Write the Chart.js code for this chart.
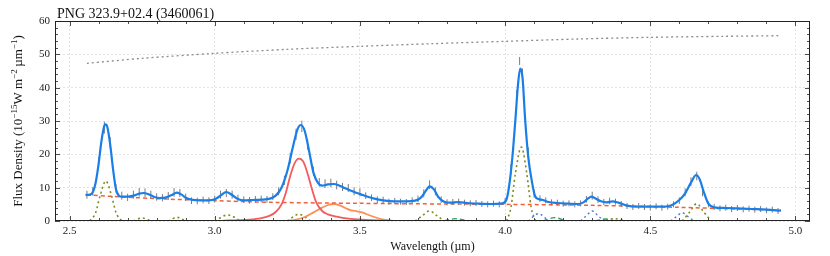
<!DOCTYPE html>
<html>
<head>
<meta charset="utf-8">
<script src="https://cdn.jsdelivr.net/npm/chart.js@4.4.1/dist/chart.umd.min.js"></script>
<style>
  body { margin: 0; background: #fff; }
  canvas { display: block; }
</style>
</head>
<body>
<canvas id="chart" width="830" height="256"></canvas>
<script>
// axis ticks
const xTicks = [2.5, 3.0, 3.5, 4.0, 4.5, 5.0];
const yTicks = [0, 10, 20, 30, 40, 50, 60];

// fitted model (blue)
const fitWave = [2.555, 2.57, 2.58, 2.59, 2.60, 2.61, 2.62, 2.625, 2.63, 2.64, 2.65, 2.66, 2.67, 2.68, 2.70, 2.72, 2.74, 2.755, 2.77, 2.79,
  2.81, 2.83, 2.85, 2.87, 2.885, 2.90, 2.92, 2.95, 2.98, 3.00, 3.02, 3.04, 3.06, 3.08, 3.10, 3.13, 3.16, 3.19, 3.21, 3.23,
  3.25, 3.27, 3.285, 3.297, 3.31, 3.325, 3.34, 3.355, 3.37, 3.39, 3.41, 3.43, 3.45, 3.47, 3.49, 3.51, 3.53, 3.55, 3.58, 3.62,
  3.66, 3.69, 3.71, 3.725, 3.74, 3.755, 3.77, 3.79, 3.81, 3.84, 3.87, 3.91, 3.95, 3.99, 4.005, 4.017, 4.027, 4.036, 4.044, 4.052,
  4.06, 4.069, 4.08, 4.092, 4.103, 4.115, 4.13, 4.15, 4.18, 4.22, 4.25, 4.27, 4.285, 4.298, 4.31, 4.33, 4.35, 4.37, 4.39, 4.42,
  4.45, 4.50, 4.55, 4.575, 4.60, 4.62, 4.64, 4.658, 4.67, 4.685, 4.70, 4.72, 4.76, 4.80, 4.85, 4.90, 4.95];
const fitFlux = [7.8, 7.9, 8.6, 11.5, 17, 24, 28.6, 29.0, 28.3, 23, 15.5, 9.5, 7.6, 7.3, 7.3, 7.6, 8.2, 8.4, 8.1, 7.3,
  6.9, 7.0, 7.7, 8.5, 8.0, 7.0, 6.4, 6.2, 6.2, 6.5, 7.6, 8.7, 7.8, 6.6, 6.2, 6.3, 6.4, 6.7, 7.6, 10,
  15, 22.5, 27.5, 28.8, 27, 21, 14.5, 11.5, 10.6, 11.0, 11.1, 10.6, 9.8, 9.1, 8.4, 7.8, 7.2, 6.7, 6.2, 5.9,
  5.9, 6.1, 7.0, 8.8, 10.4, 9.5, 7.2, 5.8, 5.5, 5.7, 5.4, 5.2, 5.1, 5.3, 6.5, 12.5, 21, 31, 40.5, 45.7,
  43, 30.5, 19, 12, 7.5, 6.6, 6.3, 5.7, 5.4, 5.2, 5.1, 5.6, 6.7, 7.3, 6.8, 5.9, 5.6, 5.9, 5.5, 4.6,
  4.3, 4.3, 4.3, 4.8, 6.3, 8.3, 11.5, 13.8, 12.5, 8.5, 5.2, 4.1, 3.9, 3.8, 3.6, 3.4, 3.1];

// observed spectrum with errors (grey)
const obsWave = [2.56, 2.58, 2.60, 2.62, 2.64, 2.66, 2.68, 2.70, 2.72, 2.74, 2.76, 2.78, 2.80, 2.82, 2.84, 2.86, 2.88, 2.90, 2.92, 2.94,
  2.96, 2.98, 3.00, 3.02, 3.04, 3.06, 3.08, 3.10, 3.12, 3.14, 3.16, 3.18, 3.20, 3.22, 3.24, 3.26, 3.28, 3.30, 3.32, 3.34,
  3.36, 3.38, 3.40, 3.42, 3.44, 3.46, 3.48, 3.50, 3.52, 3.54, 3.56, 3.58, 3.60, 3.62, 3.64, 3.66, 3.68, 3.70, 3.72, 3.74,
  3.76, 3.78, 3.80, 3.82, 3.84, 3.86, 3.88, 3.90, 3.92, 3.94, 3.96, 3.98, 4.00, 4.02, 4.04, 4.05, 4.06, 4.08, 4.10, 4.12,
  4.14, 4.16, 4.18, 4.20, 4.22, 4.24, 4.26, 4.28, 4.30, 4.32, 4.34, 4.36, 4.38, 4.40, 4.42, 4.44, 4.46, 4.48, 4.50, 4.52,
  4.54, 4.56, 4.58, 4.60, 4.62, 4.64, 4.66, 4.68, 4.70, 4.72, 4.74, 4.76, 4.78, 4.80, 4.82, 4.84, 4.86, 4.88, 4.90, 4.92, 4.94];
const obsFlux = [7.9, 8.9, 17.5, 28.0, 23.5, 9.8, 7.6, 7.1, 7.9, 8.6, 8.5, 7.9, 7.2, 7.0, 7.5, 8.6, 8.4, 7.1, 6.1, 6.0,
  6.3, 6.1, 6.6, 7.9, 8.4, 7.9, 6.9, 6.4, 6.2, 6.5, 6.6, 6.5, 7.3, 8.9, 12.2, 18.8, 26.0, 28.4, 23.0, 14.9,
  11.6, 11.2, 11.4, 10.8, 10.2, 9.9, 8.9, 8.6, 7.6, 7.0, 6.4, 6.3, 5.8, 6.0, 5.8, 5.7, 6.2, 6.6, 8.3, 10.9,
  8.9, 6.4, 5.6, 5.7, 5.8, 5.5, 5.3, 5.4, 5.1, 5.0, 5.2, 5.0, 5.9, 15.5, 37.5, 48.0, 44.0, 20.5, 8.2, 6.7,
  6.2, 5.6, 5.5, 5.2, 5.3, 5.0, 5.3, 6.5, 7.6, 6.4, 5.7, 6.0, 5.8, 5.1, 4.5, 4.2, 4.5, 4.2, 4.1, 4.4,
  4.0, 4.3, 5.0, 6.1, 8.6, 11.8, 13.5, 8.6, 5.0, 4.2, 3.8, 4.0, 3.6, 3.9, 3.5, 3.7, 3.4, 3.6, 3.2, 3.4, 3.0];
const obsErr = [1.2, 1.3, 1.6, 1.8, 1.7, 1.3, 1.2, 1.1, 1.2, 1.3, 1.3, 1.2, 1.1, 1.1, 1.2, 1.3, 1.2, 1.1, 1.0, 1.0,
  1.0, 1.0, 1.0, 1.2, 1.2, 1.2, 1.0, 1.0, 1.0, 1.0, 1.0, 1.0, 1.0, 1.2, 1.4, 1.6, 1.7, 1.7, 1.6, 1.4,
  1.3, 1.3, 1.3, 1.3, 1.2, 1.2, 1.2, 1.2, 1.0, 1.0, 1.0, 1.0, 0.9, 0.9, 0.9, 0.9, 0.9, 1.0, 1.2, 1.3,
  1.2, 1.0, 0.9, 0.9, 0.9, 0.9, 0.9, 0.9, 0.9, 0.9, 0.9, 0.9, 1.0, 1.6, 1.8, 1.2, 1.8, 1.6, 1.2, 1.0,
  0.9, 0.9, 0.9, 0.9, 0.9, 0.9, 0.9, 1.0, 1.2, 1.0, 0.9, 1.0, 0.9, 0.9, 0.9, 0.9, 0.9, 0.9, 0.9, 0.9,
  0.9, 0.9, 0.9, 1.0, 1.2, 1.3, 1.3, 1.2, 0.9, 0.9, 0.9, 0.9, 0.9, 0.9, 0.9, 0.9, 0.9, 0.9, 0.9, 0.9, 0.9];

// grey dotted curve along the top
const topWave = [2.56, 2.75, 3.0, 3.25, 3.5, 3.75, 4.0, 4.25, 4.5, 4.75, 4.95];
const topFlux = [47.3, 48.8, 50.3, 51.5, 52.4, 53.2, 53.9, 54.6, 55.1, 55.4, 55.6];

// continuum (red dashed)
const contWave = [2.56, 2.8, 3.0, 3.2, 3.5, 3.8, 4.0, 4.3, 4.6, 4.8, 4.95];
const contFlux = [7.8, 6.7, 6.1, 5.6, 5.3, 5.1, 5.0, 4.7, 4.1, 3.6, 3.2];

// gas lines (olive dotted), null separates the lines
const lineWave = [2.57, 2.59, 2.605, 2.625, 2.645, 2.66, 2.68, null, 2.72, 2.75, 2.78, null, 2.84, 2.87, 2.90, null,
  3.00, 3.045, 3.09, null, 3.25, 3.29, 3.33, null, 3.69, 3.715, 3.74, 3.765, 3.79, null,
  4.005, 4.02, 4.035, 4.056, 4.075, 4.09, 4.105, null, 4.33, 4.375, 4.42, null, 4.61, 4.635, 4.66, 4.685, 4.71];
const lineFlux = [0, 2.5, 7.5, 12, 7.5, 2.5, 0, null, 0, 0.9, 0, null, 0, 1.1, 0, null,
  0, 1.8, 0, null, 0, 2.0, 0, null, 0, 1.6, 3.0, 1.6, 0, null,
  0, 4, 14, 22.2, 14, 4, 0, null, 0, 0.7, 0, null, 0, 2.6, 5.2, 2.6, 0];

// 3.3 um feature (red)
const pahWave = [3.03, 3.10, 3.15, 3.19, 3.21, 3.23, 3.245, 3.26, 3.275, 3.29, 3.305, 3.32, 3.335, 3.35, 3.37, 3.39, 3.42, 3.46, 3.52, 3.58];
const pahFlux = [0.1, 0.3, 0.7, 1.6, 2.7, 5.0, 8.5, 13.5, 17.3, 18.7, 17.8, 14.2, 9.5, 5.5, 3.0, 2.0, 1.3, 0.7, 0.35, 0.15];

// 3.4 um plateau (orange)
const platWave = [3.25, 3.28, 3.31, 3.34, 3.37, 3.39, 3.41, 3.43, 3.45, 3.47, 3.49, 3.51, 3.53, 3.56, 3.59, 3.62];
const platFlux = [0.1, 0.4, 1.2, 2.6, 4.0, 4.8, 5.1, 4.7, 3.9, 3.2, 2.9, 2.5, 1.8, 0.9, 0.3, 0.05];

// green dashed
const greenWave = [3.79, 3.83, 3.87, null, 4.13, 4.17, 4.21, null, 4.31, 4.345, 4.38];
const greenFlux = [0, 0.7, 0, null, 0, 1.0, 0, null, 0, 0.6, 0];

// blue dotted
const bdotWave = [4.08, 4.115, 4.15, null, 4.26, 4.28, 4.30, 4.32, 4.34, null, 4.57, 4.59, 4.61, 4.63, 4.65];
const bdotFlux = [0, 2.2, 0, null, 0, 1.6, 3.0, 1.6, 0, null, 0, 1.3, 2.5, 1.3, 0];

const pts = (xs, ys) => xs.map((x, i) => ({ x: x, y: ys[i] }));

// error bars as short vertical segments split by gaps
const errData = [];
obsWave.forEach((w, i) => {
  errData.push({ x: w, y: obsFlux[i] - obsErr[i] });
  errData.push({ x: w, y: obsFlux[i] + obsErr[i] });
  errData.push({ x: w, y: null });
});

const serif = '"Liberation Serif", "Times New Roman", serif';
Chart.defaults.font.family = serif;
Chart.defaults.color = '#222';

// frame, inward ticks, title and y label
const framePlugin = {
  id: 'frame',
  afterDraw(chart) {
    const ctx = chart.ctx;
    const a = chart.chartArea;
    const xs = chart.scales.x, ys = chart.scales.y;
    ctx.save();
    ctx.strokeStyle = '#222';
    ctx.lineWidth = 1;
    ctx.strokeRect(a.left + 0.5, a.top + 0.5, a.right - a.left - 1, a.bottom - a.top - 1);
    ctx.lineWidth = 0.8;
    ctx.beginPath();
    for (let v = 25; v <= 50; v++) {
      const px = Math.round(xs.getPixelForValue(v / 10)) + 0.5;
      const len = v % 5 === 0 ? 5 : 3;
      ctx.moveTo(px, a.bottom); ctx.lineTo(px, a.bottom - len);
      ctx.moveTo(px, a.top); ctx.lineTo(px, a.top + len);
    }
    for (let v = 0; v <= 60; v += 2) {
      const py = Math.round(ys.getPixelForValue(v)) + 0.5;
      const len = v % 10 === 0 ? 5 : 3;
      ctx.moveTo(a.left, py); ctx.lineTo(a.left + len, py);
      ctx.moveTo(a.right, py); ctx.lineTo(a.right - len, py);
    }
    ctx.stroke();

    ctx.fillStyle = '#111';
    ctx.font = '14px ' + serif;
    ctx.textBaseline = 'alphabetic';
    ctx.fillText('PNG 323.9+02.4 (3460061)', a.left + 2, 18);

    // y axis title with superscripts
    const parts = [
      ['Flux Density (10', 13, 0], ['\u221215', 9, -5], ['W m', 13, 0], ['\u22122', 9, -5],
      ['\u2009\u00b5m', 13, 0], ['\u22121', 9, -5], [')', 13, 0]
    ];
    let total = 0;
    parts.forEach(p => { ctx.font = p[1] + 'px ' + serif; total += ctx.measureText(p[0]).width; });
    ctx.translate(18, (a.top + a.bottom) / 2);
    ctx.rotate(-Math.PI / 2);
    let cx = -total / 2;
    parts.forEach(p => {
      ctx.font = p[1] + 'px ' + serif;
      ctx.fillText(p[0], cx, 4 + p[2]);
      cx += ctx.measureText(p[0]).width;
    });
    ctx.restore();
  }
};

const ctx = document.getElementById('chart').getContext('2d');
const chart = new Chart(ctx, {
  type: 'line',
  data: {
    datasets: [
      { data: pts(fitWave, fitFlux), borderColor: '#1a7ee8', borderWidth: 2.2, cubicInterpolationMode: 'monotone', order: 0 },
      { data: errData, borderColor: '#7c7c7c', borderWidth: 1, spanGaps: false, order: 1 },
      { data: pts(topWave, topFlux), borderColor: '#8a8a8a', borderWidth: 1.3, borderDash: [2, 3], tension: 0.3, order: 2 },
      { data: pts(contWave, contFlux), borderColor: '#f2603a', borderWidth: 1.5, borderDash: [4, 3], tension: 0.3, order: 2 },
      { data: pts(pahWave, pahFlux), borderColor: '#f45b5b', borderWidth: 1.8, cubicInterpolationMode: 'monotone', order: 3 },
      { data: pts(platWave, platFlux), borderColor: '#ff9055', borderWidth: 1.8, cubicInterpolationMode: 'monotone', order: 3 },
      { data: pts(lineWave, lineFlux), borderColor: '#7f8c1d', borderWidth: 1.6, borderDash: [2, 3], cubicInterpolationMode: 'monotone', spanGaps: false, order: 3 },
      { data: pts(greenWave, greenFlux), borderColor: '#2ca05a', borderWidth: 1.4, borderDash: [5, 3], cubicInterpolationMode: 'monotone', spanGaps: false, order: 3 },
      { data: pts(bdotWave, bdotFlux), borderColor: '#3a7be0', borderWidth: 1.4, borderDash: [2, 3], cubicInterpolationMode: 'monotone', spanGaps: false, order: 3 }
    ]
  },
  options: {
    responsive: false,
    animation: false,
    devicePixelRatio: 1,
    layout: { padding: { left: 0, right: 20, top: 21, bottom: 0 } },
    elements: { point: { radius: 0 } },
    plugins: { legend: { display: false }, tooltip: { enabled: false } },
    scales: {
      x: {
        type: 'linear',
        min: 2.45,
        max: 5.05,
        afterBuildTicks: s => { s.ticks = xTicks.map(v => ({ value: v })); },
        afterFit: s => { s.height = 35; },
        ticks: { padding: 4, font: { size: 11 }, color: '#222', callback: v => v.toFixed(1) },
        grid: { drawTicks: false, color: '#dcdcdc', lineWidth: 0.8 },
        border: { display: false, dash: [2, 2] },
        title: { display: true, text: 'Wavelength (\u00b5m)', font: { size: 12 }, color: '#111', padding: { top: 0, bottom: 2 } }
      },
      y: {
        min: 0,
        max: 60,
        afterBuildTicks: s => { s.ticks = yTicks.map(v => ({ value: v })); },
        afterFit: s => { s.width = 55; },
        ticks: { padding: 5, font: { size: 11 }, color: '#222' },
        grid: { drawTicks: false, color: '#dcdcdc', lineWidth: 0.8 },
        border: { display: false, dash: [2, 2] }
      }
    }
  },
  plugins: [framePlugin]
});
</script>
</body>
</html>
